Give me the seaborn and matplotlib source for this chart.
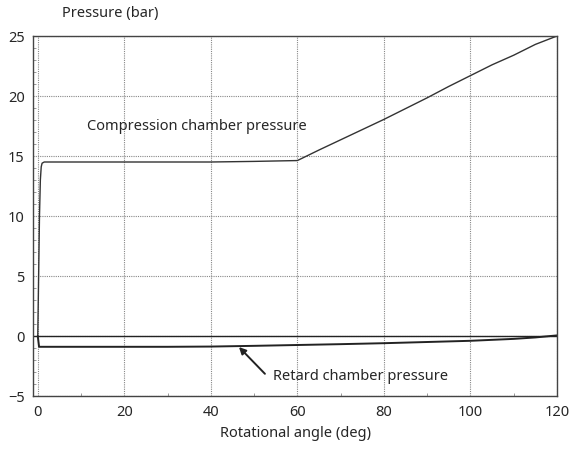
import numpy as np
import pandas as pd
import matplotlib
matplotlib.use('Agg')
import matplotlib.pyplot as plt
import seaborn as sns

# 압축실 압력 (compression chamber)
comp_angle = [0, 0.2, 0.4, 0.6, 0.8, 1.0, 1.5, 2, 10, 20, 30, 40, 50, 60,
              65, 70, 75, 80, 85, 90, 95, 100, 105, 110, 115, 120]
comp_press = [0.0, 5.0, 10.0, 13.0, 14.1, 14.4, 14.5, 14.5, 14.5, 14.5, 14.5, 14.5, 14.55, 14.62,
              15.5, 16.35, 17.2, 18.05, 18.95, 19.85, 20.8, 21.7, 22.6, 23.4, 24.3, 25.0]

# 지연실 압력 (retard chamber)
ret_angle = [0, 0.3, 10, 20, 30, 40, 50, 60, 70, 80, 90, 100, 105, 110, 115, 120]
ret_press = [0.0, -0.9, -0.9, -0.9, -0.9, -0.88, -0.82, -0.75, -0.68, -0.6, -0.5, -0.4, -0.32, -0.24, -0.12, 0.05]

sns.set_style('white')
plt.rcParams['font.family'] = ['Noto Sans', 'DejaVu Sans']

fig = plt.figure(figsize=(5.72, 4.52), dpi=100)
ax = fig.add_axes([33/572, 1-397/452, (557-33)/572, (397-37)/452])

comp = pd.DataFrame({'angle': comp_angle, 'p': comp_press})
ret = pd.DataFrame({'angle': ret_angle, 'p': ret_press})
sns.lineplot(data=comp, x='angle', y='p', ax=ax, color='#333333', lw=1.0)
sns.lineplot(data=ret, x='angle', y='p', ax=ax, color='#222222', lw=1.4)
ax.axhline(0, color='#222222', lw=1.0)

ax.set_xlim(-1.1, 120)
ax.set_ylim(-5, 25)
ax.set_xticks(range(0, 121, 20))
ax.set_yticks(range(-5, 26, 5))
ax.set_xticks(range(0, 121, 10), minor=True)
ax.set_yticks(range(-5, 26, 1), minor=True)
ax.grid(True, which='major', color='#888888', linestyle=(0, (1, 1)), lw=0.8)
ax.tick_params(which='major', length=0, labelsize=10.5, pad=6)
ax.tick_params(which='minor', direction='in', length=2, color='#888888', bottom=True, left=True)
for s in ax.spines.values():
    s.set_color('#444444')
    s.set_linewidth(1.0)

ax.set_xlabel('Rotational angle (deg)', fontsize=10.5)
ax.set_ylabel('')
fig.text(62/572, 1-14/452, 'Pressure (bar)', fontsize=10.5, va='center', ha='left')

ax.text(11.3, 17.5, 'Compression chamber pressure', fontsize=10.5, va='center')
ax.text(54.4, -3.3, 'Retard chamber pressure', fontsize=10.5, va='center', ha='left')
# 화살표
ax.annotate('', xy=(46.5, -0.92), xytext=(52.5, -3.15),
            arrowprops=dict(arrowstyle='-|>', color='#222222', lw=1.4,
                            shrinkA=0, shrinkB=0, mutation_scale=10))

fig.savefig('out.png', dpi=100)
